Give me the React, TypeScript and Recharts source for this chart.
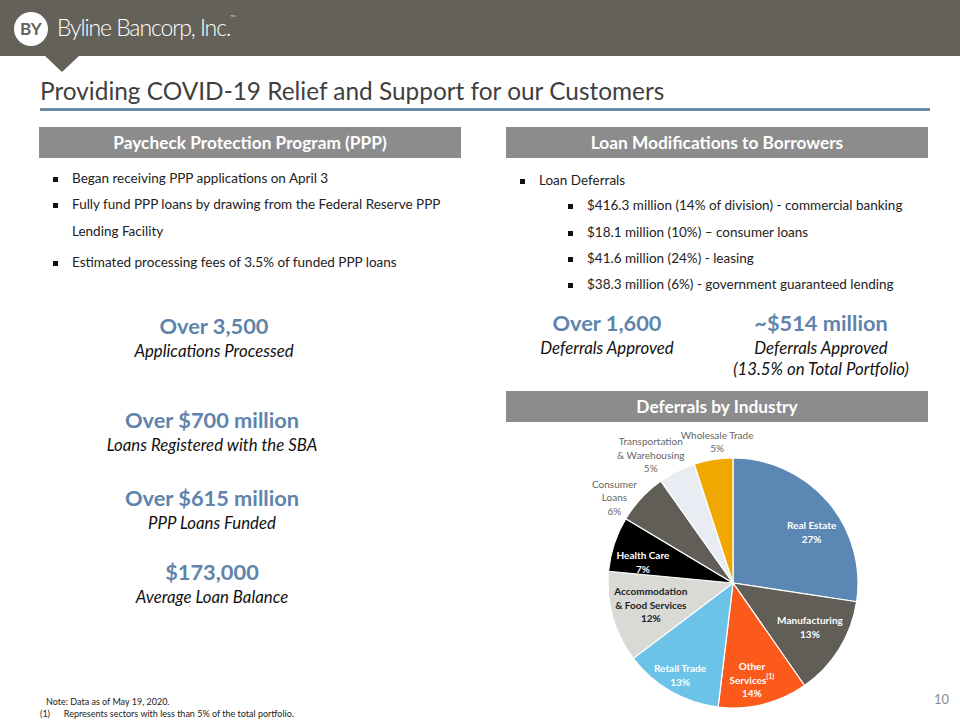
import React from "react";
import { PieChart, Pie, Cell } from "recharts";

// Deferrals by industry, clockwise from 12 o'clock (share of slice)
const industries = [
  "Real Estate",
  "Manufacturing",
  "Other Services",
  "Retail Trade",
  "Accommodation & Food Services",
  "Health Care",
  "Consumer Loans",
  "Transportation & Warehousing",
  "Wholesale Trade",
];
const shares = [27.4, 12.9, 11.6, 12.8, 11.8, 7.1, 6.6, 4.8, 5.0];
const pctLabels = ["27%", "13%", "14%", "13%", "12%", "7%", "6%", "5%", "5%"];
const labelLines = [
  ["Real Estate"],
  ["Manufacturing"],
  ["Other", "Services"],
  ["Retail Trade"],
  ["Accommodation", "& Food Services"],
  ["Health Care"],
  ["Consumer", "Loans"],
  ["Transportation", "& Warehousing"],
  ["Wholesale Trade"],
];

const sliceColors = [
  "#5b87b4",
  "#615e57",
  "#fc5a1a",
  "#6cc3e8",
  "#d9d9d6",
  "#000000",
  "#615e57",
  "#e9edf3",
  "#f0a800",
];
const labelColors = ["#fff", "#fff", "#fff", "#fff", "#222", "#fff", "#666", "#666", "#666"];
const labelRadius = [0.75, 0.71, 0.79, 0.85, 0.68, 0.74, 1.17, 1.22, 1.14];
// clockwise nudge (degrees) of each label away from the slice's mid angle
const labelShift = [7.7, -2, 3, 0, 1, -5, -7, -6, 2.6];
const labelBold = [true, true, true, true, true, true, false, false, false];

const pieData = industries.map((name, i) => ({ name, value: shares[i] }));

const FONT = "Lato, 'Open Sans', sans-serif";
const STAT_BLUE = "#5f84ac";
const BAR_GRAY = "#8c8c8c";
const RAD = Math.PI / 180;

function SliceLabel(props: any) {
  const { cx, cy, midAngle, outerRadius, index } = props;
  const r = outerRadius * labelRadius[index];
  const a = (midAngle - labelShift[index]) * RAD;
  const x = cx + r * Math.cos(-a);
  const y = cy + r * Math.sin(-a);
  const lines = [...labelLines[index], pctLabels[index]];
  const lh = 13.5;
  const y0 = y - ((lines.length - 1) * lh) / 2;
  const footnoted = index === 2;
  return (
    <text
      x={x}
      y={y0}
      fill={labelColors[index]}
      textAnchor="middle"
      dominantBaseline="central"
      fontFamily={FONT}
      fontSize={10}
      fontWeight={labelBold[index] ? 700 : 400}
    >
      {lines.map((t, k) => (
        <tspan key={k} x={x} dy={k === 0 ? 0 : lh + (footnoted && k === 2 ? 4 : 0)}>
          {t}
          {footnoted && k === 1 ? (
            <tspan fontSize={7} dy={-4}>
              (1)
            </tspan>
          ) : null}
        </tspan>
      ))}
    </text>
  );
}

function Bar({ left, top, width, text }: { left: number; top: number; width: number; text: string }) {
  return (
    <div
      style={{
        position: "absolute",
        left,
        top,
        width,
        height: 31,
        background: BAR_GRAY,
        color: "#fff",
        fontWeight: 700,
        fontSize: 17.3,
        lineHeight: "31px",
        textAlign: "center",
        whiteSpace: "nowrap",
      }}
    >
      {text}
    </div>
  );
}

function Bullet({ left, top, text, size = 13.5 }: { left: number; top: number; text: string; size?: number }) {
  return (
    <div style={{ position: "absolute", left, top, fontSize: size, color: "#222", whiteSpace: "nowrap" }}>
      <span
        style={{
          position: "absolute",
          left: -19,
          top: 7,
          width: 5,
          height: 5,
          background: "#111",
        }}
      />
      {text}
    </div>
  );
}

function Stat({ cx, top, big, lines }: { cx: number; top: number; big: string; lines: string[] }) {
  return (
    <div
      style={{
        position: "absolute",
        left: cx - 160,
        top,
        width: 320,
        textAlign: "center",
        whiteSpace: "nowrap",
      }}
    >
      <div style={{ color: STAT_BLUE, fontWeight: 700, fontSize: 21.8, lineHeight: "28px" }}>{big}</div>
      {lines.map((l, i) => (
        <div key={i} style={{ fontStyle: "italic", fontSize: 16.8, lineHeight: "21px", color: "#111" }}>
          {l}
        </div>
      ))}
    </div>
  );
}

export default function App() {
  return (
    <div
      style={{
        position: "absolute",
        left: 0,
        top: 0,
        width: 960,
        height: 720,
        background: "#fff",
        overflow: "hidden",
        fontFamily: FONT,
      }}
    >
      {/* header band */}
      <div style={{ position: "absolute", left: 0, top: 0, width: 960, height: 56, background: "#646159" }} />
      <svg style={{ position: "absolute", left: 0, top: 0 }} width={120} height={80}>
        <polygon points="44,55 80,55 62,72" fill="#646159" />
        <circle cx={31} cy={29} r={17} fill="#fff" />
        <text x={31} y={35} textAnchor="middle" fontFamily={FONT} fontSize={17} fontWeight={700} fill="#646159">
          BY
        </text>
      </svg>
      <div
        style={{
          position: "absolute",
          left: 57,
          top: 13,
          color: "#fff",
          fontSize: 23,
          fontWeight: 300,
          letterSpacing: -1.1,
          whiteSpace: "nowrap",
        }}
      >
        Byline Bancorp, Inc.
        <span style={{ fontSize: 7, verticalAlign: "top" }}>™</span>
      </div>

      {/* title */}
      <div
        style={{
          position: "absolute",
          left: 40,
          top: 76,
          fontSize: 24.4,
          color: "#3f3f3f",
          whiteSpace: "nowrap",
        }}
      >
        Providing COVID-19 Relief and Support for our Customers
      </div>
      <div style={{ position: "absolute", left: 40, top: 108, width: 890, height: 3, background: "#6b8aa8" }} />

      {/* left column */}
      <Bar left={39} top={127} width={422} text="Paycheck Protection Program (PPP)" />
      <Bullet left={72} top={170} text="Began receiving PPP applications on April 3" />
      <Bullet left={72} top={196} text="Fully fund PPP loans by drawing from the Federal Reserve PPP" />
      <div style={{ position: "absolute", left: 72, top: 223, fontSize: 13.5, color: "#222" }}>
        Lending Facility
      </div>
      <Bullet left={72} top={254} text="Estimated processing fees of 3.5% of funded PPP loans" />

      <Stat cx={214} top={312} big="Over 3,500" lines={["Applications Processed"]} />
      <Stat cx={212} top={406} big="Over $700 million" lines={["Loans Registered with the SBA"]} />
      <Stat cx={212} top={484} big="Over $615 million" lines={["PPP Loans Funded"]} />
      <Stat cx={212} top={558} big="$173,000" lines={["Average Loan Balance"]} />

      {/* right column */}
      <Bar left={506} top={127} width={422} text="Loan Modifications to Borrowers" />
      <Bullet left={539} top={172} text="Loan Deferrals" />
      <Bullet left={587} top={197} text="$416.3 million (14% of division) - commercial banking" />
      <Bullet left={587} top={224} text="$18.1 million (10%) – consumer loans" />
      <Bullet left={587} top={250} text="$41.6 million (24%) - leasing" />
      <Bullet left={587} top={276} text="$38.3 million (6%) - government guaranteed lending" />

      <Stat cx={607} top={309} big="Over 1,600" lines={["Deferrals Approved"]} />
      <Stat cx={821} top={309} big="~$514 million" lines={["Deferrals Approved", "(13.5% on Total Portfolio)"]} />

      <Bar left={506} top={391} width={422} text="Deferrals by Industry" />

      <div style={{ position: "absolute", left: 563, top: 413 }}>
        <PieChart width={340} height={307} margin={{ top: 0, right: 0, bottom: 0, left: 0 }}>
          <Pie
            data={pieData}
            dataKey="value"
            nameKey="name"
            cx={170}
            cy={170}
            outerRadius={125}
            startAngle={90}
            endAngle={-270}
            stroke="#fff"
            strokeWidth={1.2}
            label={SliceLabel}
            labelLine={false}
            isAnimationActive={false}
          >
            {pieData.map((d, i) => (
              <Cell key={d.name} fill={sliceColors[i]} />
            ))}
          </Pie>
        </PieChart>
      </div>

      {/* footnotes */}
      <div style={{ position: "absolute", left: 46, top: 696, fontSize: 9, color: "#222", whiteSpace: "nowrap" }}>
        Note: Data as of May 19, 2020.
      </div>
      <div style={{ position: "absolute", left: 40, top: 708, fontSize: 9, color: "#222", whiteSpace: "nowrap" }}>
        (1)&nbsp;&nbsp;&nbsp;&nbsp;&nbsp;&nbsp;Represents sectors with less than 5% of the total portfolio.
      </div>
      <div style={{ position: "absolute", left: 934, top: 691, fontSize: 13, color: "#8c8c8c" }}>10</div>
    </div>
  );
}
